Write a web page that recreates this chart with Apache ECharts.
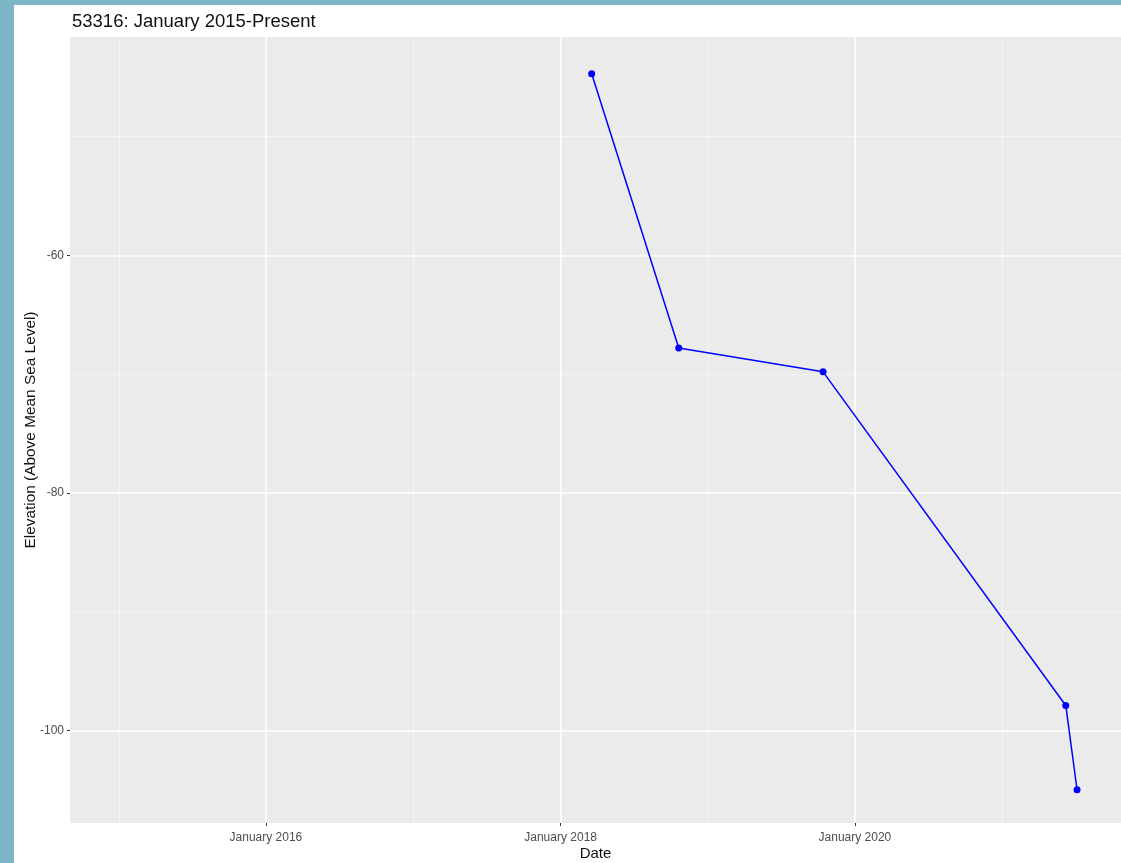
<!DOCTYPE html>
<html>
<head>
<meta charset="utf-8">
<script src="https://cdn.jsdelivr.net/npm/echarts@6/dist/echarts.min.js"></script>
<style>
  html, body { margin: 0; padding: 0; width: 1121px; height: 863px; background: #7DB5C7; overflow: hidden; }
  #chart { position: absolute; left: 14px; top: 5px; width: 1107px; height: 858px; background: #ffffff; }
</style>
</head>
<body>
<div id="chart"></div>
<script>
// ---- data ----
const titleText = '53316: January 2015-Present';
const dates = ['2018-03-19', '2018-10-21', '2019-10-14', '2021-06-07', '2021-07-05'];
const elevations = [-44.7, -67.8, -69.8, -97.9, -105.0];
const xTickDates = ['2016-01-01', '2018-01-01', '2020-01-01'];
const xTickLabels = ['January 2016', 'January 2018', 'January 2020'];
const xMinorDates = ['2015-01-01', '2017-01-01', '2019-01-01', '2021-01-01'];
const yTicks = [-60, -80, -100];
const yMinor = [-50, -70, -90];
const xRange = ['2014-09-02', '2021-10-22'];
const yRange = [-107.8, -41.6];

const ts = s => Date.parse(s + 'T00:00:00Z');
const xTickTs = xTickDates.map(ts);

const chart = echarts.init(document.getElementById('chart'));
const font = '"Liberation Sans", Arial, Helvetica, sans-serif';

const gridLines = [].concat(
  xMinorDates.map(d => ({ xAxis: ts(d), lineStyle: { color: '#F6F6F6', width: 0.8, type: 'solid' } })),
  yMinor.map(v => ({ yAxis: v, lineStyle: { color: '#F6F6F6', width: 0.8, type: 'solid' } })),
  xTickDates.map(d => ({ xAxis: ts(d), lineStyle: { color: '#FFFFFF', width: 1.6, type: 'solid' } })),
  yTicks.map(v => ({ yAxis: v, lineStyle: { color: '#FFFFFF', width: 1.6, type: 'solid' } }))
);

chart.setOption({
  animation: false,
  textStyle: { fontFamily: font },
  title: {
    text: titleText,
    left: 53, top: 2,
    textStyle: { fontFamily: font, fontSize: 18.5, fontWeight: 'normal', color: '#111' }
  },
  grid: {
    left: 56, right: 0, top: 32, bottom: 40,
    outerBoundsMode: 'none', containLabel: false,
    show: true, backgroundColor: '#EBEBEB', borderWidth: 0
  },
  xAxis: {
    type: 'value',
    min: ts(xRange[0]), max: ts(xRange[1]),
    name: 'Date', nameLocation: 'middle', nameGap: 23, nameMoveOverlap: false,
    nameTextStyle: { fontFamily: font, fontSize: 15, color: '#111' },
    axisLine: { show: false },
    axisTick: { show: true, customValues: xTickTs, length: 3, lineStyle: { color: '#333', width: 1 } },
    axisLabel: {
      customValues: xTickTs, margin: 9,
      fontFamily: font, fontSize: 12, color: '#4D4D4D',
      formatter: v => { const i = xTickTs.indexOf(v); return i >= 0 ? xTickLabels[i] : ''; }
    },
    splitLine: { show: false }
  },
  yAxis: {
    type: 'value',
    min: yRange[0], max: yRange[1],
    name: 'Elevation (Above Mean Sea Level)', nameLocation: 'middle', nameGap: 32, nameMoveOverlap: false,
    nameTextStyle: { fontFamily: font, fontSize: 15.4, color: '#111' },
    axisLine: { show: false },
    axisTick: { show: true, customValues: yTicks, length: 3, lineStyle: { color: '#333', width: 1 } },
    axisLabel: { customValues: yTicks, margin: 6, fontFamily: font, fontSize: 12, color: '#4D4D4D' },
    splitLine: { show: false }
  },
  series: [
    {
      type: 'line', data: [], silent: true, z: 1,
      markLine: {
        z: 1, silent: true, symbol: ['none', 'none'], label: { show: false },
        emphasis: { disabled: true },
        data: gridLines
      }
    },
    {
      type: 'line', z: 3,
      data: dates.map((d, i) => [ts(d), elevations[i]]),
      symbol: 'circle', symbolSize: 7,
      itemStyle: { color: '#0000FF' },
      lineStyle: { color: '#0000FF', width: 1.5 }
    }
  ]
});
</script>
</body>
</html>
